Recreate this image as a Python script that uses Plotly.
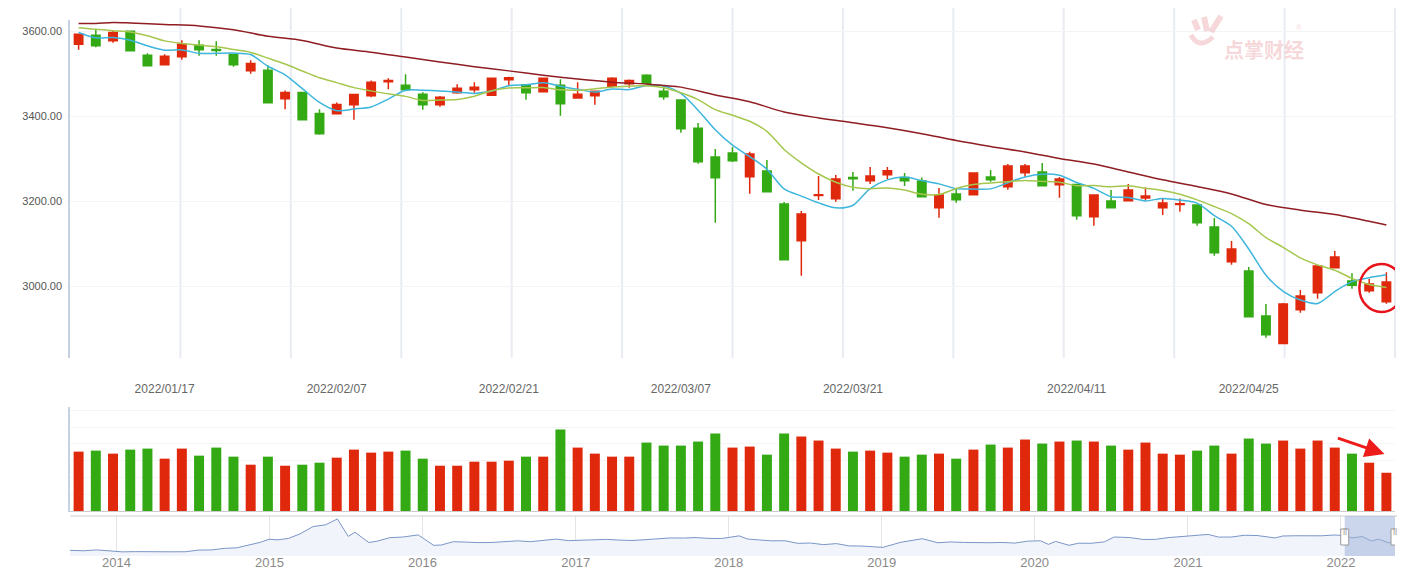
import plotly.graph_objects as go

# ---------------- data ----------------
dates = [
    "2022-01-10", "2022-01-11", "2022-01-12", "2022-01-13", "2022-01-14", "2022-01-17", "2022-01-18",
    "2022-01-19", "2022-01-20", "2022-01-21", "2022-01-24", "2022-01-25", "2022-01-26", "2022-01-27",
    "2022-01-28", "2022-02-07", "2022-02-08", "2022-02-09", "2022-02-10", "2022-02-11", "2022-02-14",
    "2022-02-15", "2022-02-16", "2022-02-17", "2022-02-18", "2022-02-21", "2022-02-22", "2022-02-23",
    "2022-02-24", "2022-02-25", "2022-02-28", "2022-03-01", "2022-03-02", "2022-03-03", "2022-03-04",
    "2022-03-07", "2022-03-08", "2022-03-09", "2022-03-10", "2022-03-11", "2022-03-14", "2022-03-15",
    "2022-03-16", "2022-03-17", "2022-03-18", "2022-03-21", "2022-03-22", "2022-03-23", "2022-03-24",
    "2022-03-25", "2022-03-28", "2022-03-29", "2022-03-30", "2022-03-31", "2022-04-01", "2022-04-06",
    "2022-04-07", "2022-04-08", "2022-04-11", "2022-04-12", "2022-04-13", "2022-04-14", "2022-04-15",
    "2022-04-18", "2022-04-19", "2022-04-20", "2022-04-21", "2022-04-22", "2022-04-25", "2022-04-26",
    "2022-04-27", "2022-04-28", "2022-04-29", "2022-05-05", "2022-05-06", "2022-05-09", "2022-05-10",
]

opens = [3569.2, 3590.3, 3577.0, 3599.7, 3543.4, 3520.7, 3539.5, 3566.9, 3556.5, 3545.0,
         3506.6, 3508.2, 3440.9, 3455.8, 3406.5, 3405.7, 3426.8, 3447.9, 3480.8, 3473.0,
         3451.8, 3426.8, 3455.0, 3462.0, 3449.5, 3485.5, 3473.8, 3457.3, 3473.0, 3442.5,
         3447.9, 3470.6, 3476.1, 3496.4, 3458.9, 3437.8, 3372.0, 3303.9, 3313.3, 3257.8,
         3271.1, 3193.6, 3107.5, 3214.0, 3206.1, 3256.2, 3248.4, 3262.5, 3256.2, 3247.6,
         3185.0, 3217.1, 3215.5, 3257.0, 3234.3, 3267.2, 3268.7, 3239.0, 3239.8, 3163.9,
         3200.7, 3201.4, 3207.7, 3185.0, 3192.8, 3191.3, 3139.6, 3058.3, 3036.3, 2930.7,
         2865.8, 2945.6, 2985.5, 3044.2, 3012.9, 2990.2, 2964.3]
highs = [3594.0, 3602.9, 3601.3, 3601.0, 3548.1, 3545.8, 3578.6, 3578.6, 3576.3, 3546.0,
         3531.7, 3519.9, 3460.5, 3457.0, 3416.6, 3432.3, 3452.0, 3483.9, 3489.4, 3498.8,
         3456.5, 3447.2, 3475.3, 3480.0, 3490.0, 3492.5, 3475.0, 3490.0, 3487.1, 3480.0,
         3460.0, 3491.7, 3486.3, 3498.8, 3473.0, 3439.0, 3383.8, 3322.7, 3327.4, 3316.5,
         3296.9, 3198.3, 3177.2, 3259.4, 3261.7, 3268.7, 3280.5, 3280.5, 3266.4, 3256.2,
         3231.2, 3229.6, 3267.0, 3273.4, 3287.5, 3287.5, 3289.9, 3257.0, 3241.0, 3215.0,
         3226.5, 3240.6, 3232.8, 3206.1, 3206.9, 3192.0, 3160.7, 3106.8, 3045.7, 2958.9,
         2961.2, 2991.7, 3049.0, 3083.3, 3030.9, 3017.6, 3033.2]
lows = [3555.9, 3562.2, 3572.4, 3552.0, 3517.0, 3519.0, 3532.4, 3541.8, 3541.8, 3516.0,
        3499.6, 3430.0, 3416.6, 3390.0, 3356.4, 3404.0, 3391.6, 3444.8, 3463.6, 3458.9,
        3415.1, 3422.1, 3453.0, 3455.0, 3448.0, 3473.0, 3438.5, 3456.0, 3401.0, 3440.9,
        3426.8, 3466.7, 3466.7, 3476.0, 3438.5, 3361.1, 3288.3, 3149.8, 3292.2, 3217.9,
        3221.0, 3062.0, 3025.4, 3203.0, 3199.1, 3224.9, 3240.6, 3252.3, 3235.9, 3210.0,
        3161.5, 3196.8, 3214.0, 3246.1, 3227.3, 3257.8, 3235.0, 3208.5, 3156.9, 3142.8,
        3184.0, 3200.0, 3202.2, 3167.8, 3175.6, 3142.8, 3072.3, 3051.2, 2928.0, 2879.8,
        2865.0, 2938.5, 2971.4, 3043.0, 2994.9, 2985.5, 2959.7]
closes = [3592.7, 3565.3, 3596.6, 3553.6, 3518.4, 3541.1, 3569.2, 3555.9, 3554.6, 3520.7,
          3523.8, 3431.5, 3455.8, 3391.6, 3358.7, 3427.6, 3451.1, 3480.0, 3483.9, 3462.0,
          3426.8, 3444.8, 3465.9, 3468.3, 3489.4, 3490.2, 3455.0, 3489.4, 3429.2, 3451.8,
          3458.9, 3489.4, 3483.9, 3477.7, 3445.6, 3370.5, 3293.0, 3255.4, 3295.3, 3311.0,
          3222.6, 3063.0, 3170.1, 3215.5, 3252.3, 3253.1, 3259.4, 3271.9, 3248.4, 3210.8,
          3214.7, 3203.8, 3266.4, 3250.7, 3282.8, 3282.8, 3236.7, 3252.3, 3166.2, 3214.7,
          3185.0, 3226.5, 3212.4, 3196.0, 3194.4, 3149.8, 3079.4, 3088.0, 2929.1, 2886.9,
          2958.9, 2977.7, 3048.1, 3069.2, 3002.7, 3005.8, 3010.5]

ma5 = [3596.6, 3584.1, 3584.6, 3578.6, 3565.3, 3555.0, 3555.8, 3547.6, 3547.8, 3548.3,
       3544.8, 3517.3, 3497.3, 3464.7, 3432.3, 3413.0, 3417.0, 3421.8, 3440.3, 3460.9,
       3460.8, 3459.5, 3456.7, 3453.6, 3459.0, 3471.7, 3473.8, 3478.5, 3470.6, 3463.1,
       3456.9, 3463.7, 3462.6, 3472.3, 3471.1, 3453.4, 3414.1, 3368.4, 3332.0, 3305.0,
       3275.5, 3229.5, 3212.4, 3196.4, 3184.7, 3190.8, 3230.1, 3250.4, 3257.0, 3248.7,
       3241.0, 3229.9, 3228.8, 3229.3, 3243.7, 3257.3, 3263.9, 3261.1, 3244.2, 3230.5,
       3211.0, 3208.9, 3201.0, 3206.9, 3202.9, 3195.8, 3166.4, 3141.5, 3088.1, 3026.6,
       2988.5, 2968.1, 2960.1, 2988.2, 3011.3, 3020.7, 3027.3]
ma10 = [3608.0, 3604.0, 3601.0, 3598.0, 3589.0, 3577.0, 3571.0, 3567.0, 3563.0, 3556.8,
        3549.9, 3536.5, 3522.5, 3506.3, 3490.3, 3478.9, 3467.1, 3459.5, 3452.5, 3446.6,
        3436.9, 3438.2, 3439.2, 3446.9, 3460.0, 3466.2, 3466.6, 3467.6, 3462.1, 3461.1,
        3464.3, 3468.8, 3470.6, 3471.5, 3467.1, 3455.1, 3438.9, 3415.5, 3402.2, 3388.1,
        3364.4, 3321.8, 3290.4, 3264.2, 3244.9, 3233.1, 3229.8, 3231.4, 3226.7, 3216.7,
        3215.9, 3230.0, 3239.6, 3243.2, 3246.2, 3249.2, 3246.9, 3244.9, 3236.7, 3237.1,
        3234.1, 3236.4, 3231.0, 3225.5, 3216.7, 3203.4, 3187.7, 3171.2, 3147.5, 3114.8,
        3092.1, 3067.3, 3050.8, 3038.2, 3019.0, 3004.6, 2997.7]
ma60_idx = [0, 1, 2, 3, 5, 7, 9, 11, 13, 15, 17, 19, 21, 23, 25, 27, 29, 31, 33, 35,
            37, 39, 41, 43, 45, 47, 49, 51, 53, 55, 57, 59, 61, 63, 65, 67, 69, 71, 73, 75, 76]
ma60_vals = [3617.5, 3618, 3620, 3619, 3615.5, 3612, 3603, 3588, 3578, 3560,
             3550.5, 3539, 3527.6, 3516.4, 3506.5, 3496.4, 3487.3, 3480, 3475.5, 3468.3,
             3450, 3434, 3410, 3396, 3384.8, 3373, 3359, 3343, 3329, 3316,
             3300.6, 3287.5, 3269, 3250.7, 3235, 3217.5, 3192.7, 3179.3, 3169, 3153, 3144.3]

volumes = [354, 360, 342, 366, 372, 312, 372, 330, 378, 324, 276, 324, 270, 276, 288, 318,
           366, 348, 354, 360, 312, 270, 270, 294, 294, 300, 324, 324, 486, 378, 342, 324,
           324, 408, 390, 390, 414, 462, 378,
           384, 336, 462, 444, 420, 372, 354, 360, 348, 324, 336, 342, 312, 366, 396, 378,
           426, 402, 414, 420, 414, 390, 366, 408, 342, 336, 360, 390, 342, 432, 402, 420,
           372, 420, 378, 342, 288, 228]
# 1 = up (red) bar, 0 = down (green) bar, as shown in the volume panel
vol_up = [1, 0, 1, 0, 0, 1, 1, 0, 0, 0, 1, 0, 1, 0, 0, 1, 1, 1, 1, 0,
          0, 1, 1, 1, 1, 1, 0, 1, 0, 1, 1, 1, 1, 0, 0, 0, 0, 0, 1, 1,
          0, 0, 1, 1, 1, 0, 1, 1, 0, 0, 1, 0, 1, 0, 1, 1, 0, 1, 0, 1,
          0, 1, 1, 1, 1, 0, 0, 1, 0, 0, 1, 1, 1, 1, 0, 1, 1]

x_tick_dates = ["2022-01-17", "2022-02-07", "2022-02-21", "2022-03-07",
                "2022-03-21", "2022-04-11", "2022-04-25"]
x_tick_text = ["2022/01/17", "2022/02/07", "2022/02/21", "2022/03/07",
               "2022/03/21", "2022/04/11", "2022/04/25"]
y_ticks = [3000, 3200, 3400, 3600]

nav_dates = [
    "2013-09-12", "2013-10-15", "2013-11-15", "2013-12-15", "2014-01-15", "2014-02-15", "2014-03-15",
    "2014-04-15", "2014-05-15", "2014-06-15", "2014-07-15", "2014-08-15", "2014-09-15", "2014-10-15",
    "2014-11-15", "2014-12-10", "2014-12-31", "2015-01-20", "2015-02-15", "2015-03-15", "2015-04-15",
    "2015-05-15", "2015-06-12", "2015-07-08", "2015-07-24", "2015-08-26", "2015-09-15", "2015-10-15",
    "2015-11-15", "2015-12-22", "2016-01-28", "2016-02-15", "2016-03-15", "2016-04-15", "2016-05-15",
    "2016-06-15", "2016-07-15", "2016-08-15", "2016-09-15", "2016-10-15", "2016-11-15", "2016-12-15",
    "2017-01-15", "2017-02-15", "2017-03-15", "2017-04-15", "2017-05-15", "2017-06-15", "2017-07-15",
    "2017-08-15", "2017-09-15", "2017-10-15", "2017-11-15", "2017-12-15", "2018-01-26", "2018-02-15",
    "2018-03-15", "2018-04-15", "2018-05-15", "2018-06-15", "2018-07-15", "2018-08-15", "2018-09-15",
    "2018-10-15", "2018-11-15", "2018-12-15", "2019-01-04", "2019-02-15", "2019-03-15", "2019-04-08",
    "2019-05-15", "2019-06-15", "2019-07-15", "2019-08-15", "2019-09-15", "2019-10-15", "2019-11-15",
    "2019-12-15", "2020-01-15", "2020-02-03", "2020-02-20", "2020-03-23", "2020-04-15", "2020-05-15",
    "2020-06-15", "2020-07-09", "2020-08-15", "2020-09-15", "2020-10-15", "2020-11-15", "2020-12-15",
    "2021-01-15", "2021-02-18", "2021-03-15", "2021-04-15", "2021-05-15", "2021-06-15", "2021-07-28",
    "2021-08-15", "2021-09-15", "2021-10-15", "2021-11-15", "2021-12-15", "2022-01-10", "2022-01-28",
    "2022-02-21", "2022-03-15", "2022-03-31", "2022-04-26", "2022-05-10",
]
nav_vals = [
    2175, 2141, 2220, 2116, 2033, 2056, 2033,
    2026, 2039, 2048, 2201, 2217, 2364, 2420,
    2683, 2940, 3235, 3180, 3310, 3748, 4441,
    4612, 5166, 3507, 3900, 2927, 3053, 3383,
    3445, 3650, 2655, 2688, 3004, 2938, 2917,
    2930, 2979, 3085, 3005, 3100, 3250, 3104,
    3159, 3242, 3223, 3155, 3117, 3192, 3273,
    3361, 3349, 3393, 3317, 3307, 3558, 3259,
    3169, 3082, 3095, 2847, 2876, 2725, 2821,
    2603, 2588, 2494, 2464, 2941, 3091, 3288,
    2899, 2979, 2933, 2886, 2905, 2929, 2872,
    3050, 3090, 2746, 3030, 2660, 2860, 2852,
    2985, 3450, 3396, 3218, 3225, 3392, 3473,
    3566, 3696, 3441, 3447, 3615, 3591, 3361,
    3544, 3568, 3547, 3564, 3640, 3593, 3361,
    3490, 3064, 3252, 2886, 3010,
]

# ---------------- style ----------------
RED = "#e0290c"
GREEN = "#33a914"
W, H = 1404, 569
X0, X1 = 70, 1395


def fx(p):
    return p / W


def fy(p):
    return 1 - p / H


vol_colors = [RED if u else GREEN for u in vol_up]

fig = go.Figure()

fig.add_trace(go.Candlestick(
    x=dates, open=opens, high=highs, low=lows, close=closes,
    increasing=dict(line=dict(color=RED, width=1.5), fillcolor=RED),
    decreasing=dict(line=dict(color=GREEN, width=1.5), fillcolor=GREEN),
    whiskerwidth=0, xaxis="x", yaxis="y", showlegend=False, hoverinfo="skip",
))
fig.add_trace(go.Scatter(x=dates, y=ma5, mode="lines", xaxis="x", yaxis="y",
                         line=dict(color="#3db5dc", width=1.5, shape="spline", smoothing=0.8),
                         hoverinfo="skip"))
fig.add_trace(go.Scatter(x=dates, y=ma10, mode="lines", xaxis="x", yaxis="y",
                         line=dict(color="#a5c74e", width=1.5, shape="spline", smoothing=0.8),
                         hoverinfo="skip"))
fig.add_trace(go.Scatter(x=[dates[i] for i in ma60_idx], y=ma60_vals, mode="lines",
                         xaxis="x", yaxis="y",
                         line=dict(color="#8f1d22", width=1.5, shape="spline", smoothing=0.8),
                         hoverinfo="skip"))

fig.add_trace(go.Bar(x=dates, y=volumes, marker=dict(color=vol_colors, line=dict(width=0)),
                     width=0.58, xaxis="x2", yaxis="y2", hoverinfo="skip"))

fig.add_trace(go.Scatter(x=nav_dates, y=nav_vals, mode="lines", xaxis="x3", yaxis="y3",
                         fill="tozeroy", fillcolor="#f1f4fa",
                         line=dict(color="#7b96c8", width=1), hoverinfo="skip"))

dom_x = [fx(X0), fx(X1)]
font_family = "Liberation Sans, Arial, sans-serif"

fig.update_layout(
    width=W, height=H,
    margin=dict(l=0, r=0, t=0, b=0, autoexpand=False),
    paper_bgcolor="white", plot_bgcolor="white",
    showlegend=False,
    font=dict(family=font_family),
    xaxis=dict(domain=dom_x, anchor="y", type="category", range=[-0.5, len(dates) - 0.5],
               automargin=False,
               rangeslider=dict(visible=False), showgrid=False, showline=False, zeroline=False,
               tickmode="array", tickvals=x_tick_dates, ticktext=x_tick_text,
               ticks="outside", ticklen=20, tickcolor="rgba(0,0,0,0)",
               tickfont=dict(size=12, color="#666666")),
    yaxis=dict(domain=[fy(358), fy(20)], anchor="x", range=[2832, 3626], automargin=False,
               tickmode="array", tickvals=y_ticks, tickformat=".2f", ticklabelstandoff=4,
               showgrid=True, gridcolor="#f3f4f6", gridwidth=1, zeroline=False,
               showline=True, linecolor="#c6d1e5", linewidth=1.5,
               ticks="", tickfont=dict(size=11, color="#555555")),
    xaxis2=dict(domain=dom_x, anchor="y2", type="category", range=[-0.5, len(dates) - 0.5],
                automargin=False,
                showticklabels=False, showgrid=False, zeroline=False,
                showline=True, linecolor="#cccccc", linewidth=1),
    yaxis2=dict(domain=[fy(511), fy(407)], anchor="x2", range=[0, 620], automargin=False,
                showticklabels=False, showgrid=True, gridcolor="#f4f5f7", dtick=100,
                zeroline=False, showline=True, linecolor="#c6d1e5", linewidth=1.5),
    xaxis3=dict(domain=dom_x, anchor="y3", type="date", range=["2013-09-12", "2022-05-10"],
                automargin=False,
                dtick="M12", tick0="2014-01-01", tickformat="%Y",
                showgrid=True, gridcolor="#e4e4e4", gridwidth=1, showline=False, zeroline=False,
                ticks="", ticklabelstandoff=-3,
                tickfont=dict(size=13, color="#8a8a8a")),
    yaxis3=dict(domain=[fy(556), fy(516)], anchor="x3", range=[1640, 5450], visible=False,
                automargin=False),
)

wm = "rgba(236,168,172,0.45)"
shapes = []
# vertical split lines in the price panel
for k in range(1, 13):
    xp = fx(X0 + k * (X1 - X0) / 12)
    shapes.append(dict(type="line", xref="paper", yref="paper", x0=xp, x1=xp,
                       y0=fy(358), y1=fy(8), line=dict(color="#e8ecf2", width=2), layer="below"))
# navigator top border
shapes.append(dict(type="line", xref="paper", yref="paper", x0=fx(X0), x1=fx(X1 + 2),
                   y0=fy(516), y1=fy(516), line=dict(color="#cfcfcf", width=1)))
# navigator selection window
shapes.append(dict(type="rect", xref="x3", yref="paper", x0=dates[0], x1=dates[-1],
                   y0=fy(556), y1=fy(516), fillcolor="rgba(160,178,218,0.55)",
                   line=dict(width=0), layer="above"))
for d in (dates[0], dates[-1]):
    shapes.append(dict(type="rect", xref="x3", yref="paper", xsizemode="pixel", xanchor=d,
                       x0=-4, x1=4, y0=fy(545), y1=fy(529), fillcolor="white",
                       line=dict(color="#999999", width=1), layer="above"))
# red circle around last candle
shapes.append(dict(type="circle", xref="x", yref="y", xsizemode="pixel", ysizemode="pixel",
                   xanchor=dates[-1], yanchor=(highs[-1] + lows[-1]) / 2,
                   x0=-27, x1=17, y0=-24, y1=24,
                   line=dict(color="#e8141b", width=2.5)))
# watermark logo (stylised palm)
for (ax0, ay0, ax1, ay1) in [(1194, 20, 1198, 30), (1204, 17, 1207, 31), (1221, 16, 1211, 32)]:
    shapes.append(dict(type="line", xref="paper", yref="paper", x0=fx(ax0), y0=fy(ay0),
                       x1=fx(ax1), y1=fy(ay1), line=dict(color=wm, width=6)))
shapes.append(dict(type="path", xref="paper", yref="paper",
                   path="M %f,%f Q %f,%f %f,%f" % (fx(1191), fy(35), fx(1199), fy(50), fx(1213), fy(37)),
                   line=dict(color=wm, width=5)))
fig.update_layout(shapes=shapes)

annotations = [
    # red arrow on the volume panel
    dict(x=dates[-1], y=336, xref="x2", yref="y2", ax=-50, ay=-17, text="",
         showarrow=True, arrowhead=2, arrowsize=1.3, arrowwidth=3, arrowcolor="#ee1b1b",
         standoff=2),
    # watermark
    dict(x=fx(1222), y=fy(33), xref="paper", yref="paper", xanchor="left", text="<b>点掌财经</b>",
         showarrow=False, font=dict(family="Noto Sans CJK SC", size=20, color=wm)),
    dict(x=fx(1304), y=fy(21), xref="paper", yref="paper", text="®",
         showarrow=False, font=dict(size=8, color=wm)),
]
for d in (dates[0], dates[-1]):
    annotations.append(dict(x=d, y=fy(537), xref="x3", yref="paper", text="||", showarrow=False,
                            font=dict(size=8, color="#888888")))
fig.update_layout(annotations=annotations)

fig.write_html("out.html")
